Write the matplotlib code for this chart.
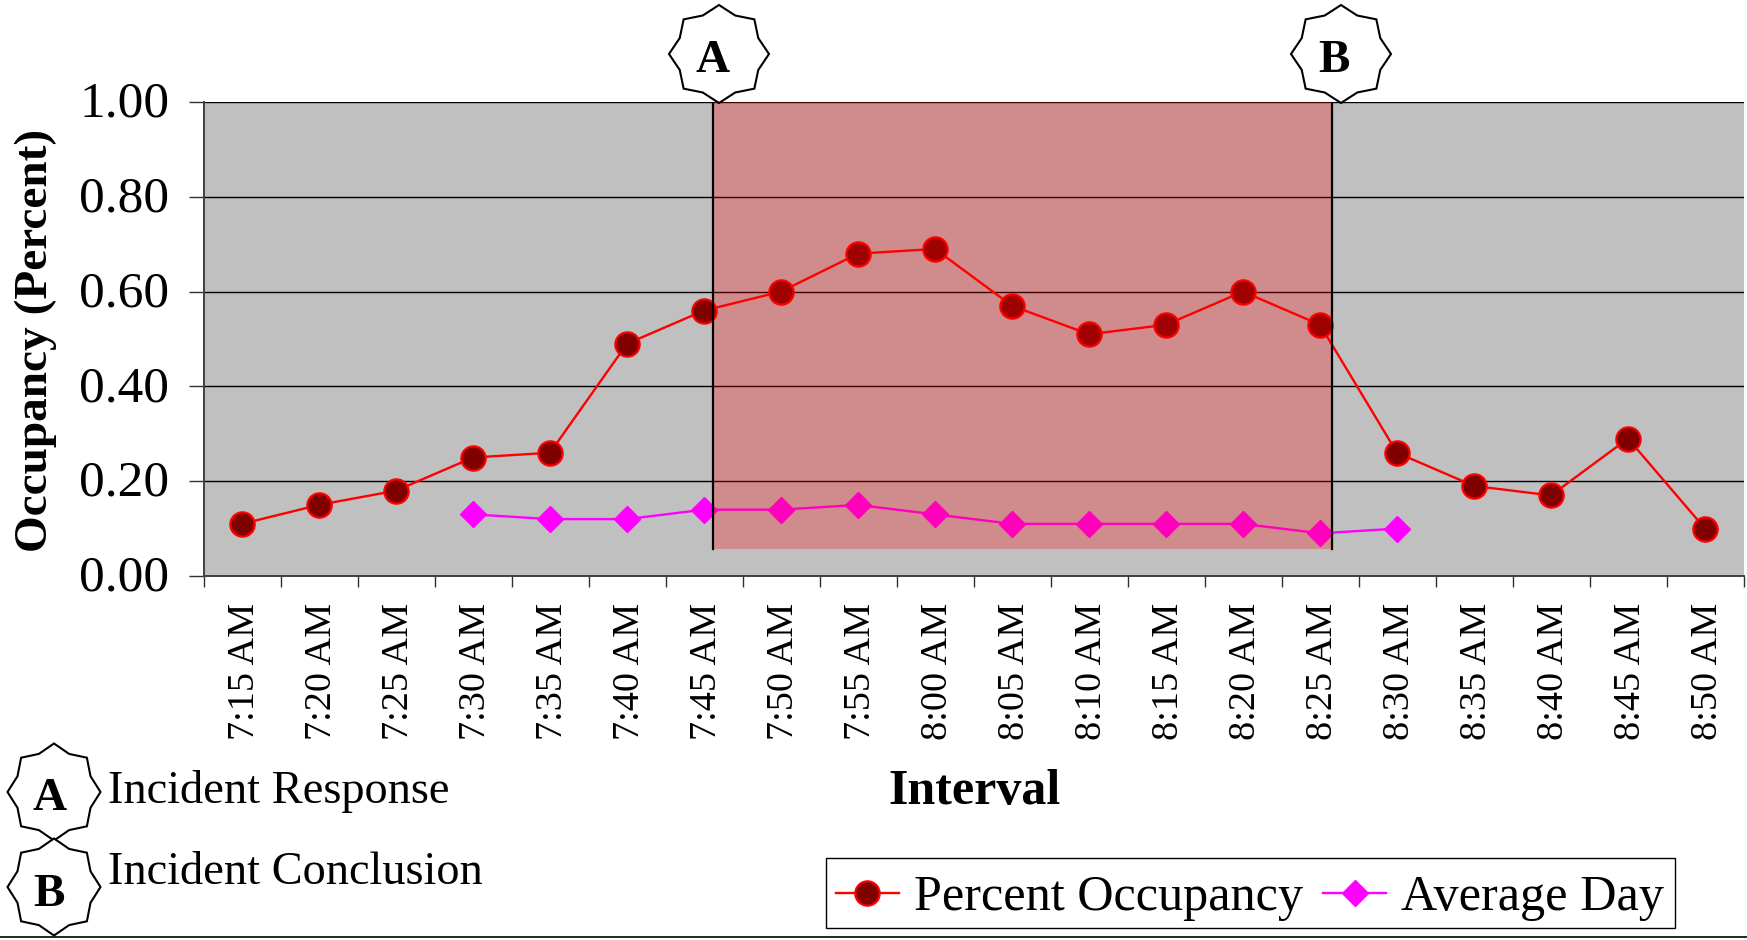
#Occupancy per 5 minute interval during an incident, compared with an average day
import numpy as np
import matplotlib
matplotlib.use('Agg')
import matplotlib.pyplot as plt
from matplotlib.patches import Polygon, Rectangle
from matplotlib.lines import Line2D
from matplotlib.transforms import ScaledTranslation

plt.rcParams['font.family'] = ['Liberation Serif', 'DejaVu Serif']

W, H = 1747, 940

#Values
intervals = ['7:15 AM', '7:20 AM', '7:25 AM', '7:30 AM', '7:35 AM', '7:40 AM', '7:45 AM',
             '7:50 AM', '7:55 AM', '8:00 AM', '8:05 AM', '8:10 AM', '8:15 AM', '8:20 AM',
             '8:25 AM', '8:30 AM', '8:35 AM', '8:40 AM', '8:45 AM', '8:50 AM']
occupancy = [0.11, 0.15, 0.18, 0.25, 0.26, 0.49, 0.56, 0.60, 0.68, 0.69,
             0.57, 0.51, 0.53, 0.60, 0.53, 0.26, 0.19, 0.17, 0.29, 0.10]
average_day = [np.nan, np.nan, np.nan, 0.13, 0.12, 0.12, 0.14, 0.14, 0.15, 0.13,
               0.11, 0.11, 0.11, 0.11, 0.09, 0.10, np.nan, np.nan, np.nan, np.nan]
y_ticks = [0.00, 0.20, 0.40, 0.60, 0.80, 1.00]

#Incident start and end, in category units (they sit between the points)
incident_start = 6.12
incident_end = 14.15
shade_bottom = 0.056

x = np.arange(len(intervals))

fig = plt.figure(figsize=(W/100, H/100), dpi=100)
ax = fig.add_axes([203.5/W, 1 - 576/H, (1743.5 - 203.5)/W, (576 - 102)/H])
ax.set_facecolor('#c0c0c0')
ax.set_xlim(-0.5, len(intervals) - 0.5)
ax.set_ylim(0, 1)

ax.yaxis.grid(True, color='black', linewidth=1.0, zorder=1)
ax.set_axisbelow(True)

ax.plot(x, occupancy, color='#ff0000', linewidth=1.7, marker='o', markersize=17.5,
        markerfacecolor='#800000', markeredgecolor='#ff0000', markeredgewidth=1.6,
        zorder=3, clip_on=False)
ax.plot(x, average_day, color='#ff00ff', linewidth=1.7, marker='D', markersize=13,
        markerfacecolor='#ff00ff', markeredgecolor='#ff00ff', zorder=3)

#Translucent red band over the lines, so they change colour inside it
ax.add_patch(Rectangle((incident_start, shade_bottom), incident_end - incident_start,
                       1 - shade_bottom, facecolor='#ff0000', alpha=0.265,
                       edgecolor='none', zorder=4))
ax.plot([incident_start, incident_start], [shade_bottom, 1], color='black', linewidth=1.6, zorder=5)
ax.plot([incident_end, incident_end], [shade_bottom, 1], color='black', linewidth=1.6, zorder=5)

#Ticks sit between the categories, labels under the points
ax.set_xticks(np.arange(len(intervals) + 1) - 0.5)
ax.set_xticklabels([])
ax.set_xticks(x, minor=True)
ax.set_xticklabels(intervals, minor=True, rotation=90, fontsize=27.5)
ax.tick_params(axis='x', which='major', length=8, width=1, color='#303030')
ax.tick_params(axis='x', which='minor', length=0, pad=19)
ax.set_yticks(y_ticks)
ax.set_yticklabels(['%.2f' % v for v in y_ticks], fontsize=37)
ax.tick_params(axis='y', length=10.5, width=1, pad=14, color='#303030')

#Nudge the tick labels a little, the defaults sit slightly off the reference
for label in ax.get_xticklabels(minor=True):
    label.set_transform(label.get_transform() + ScaledTranslation(2.5/100, 0, fig.dpi_scale_trans))
for label in ax.get_yticklabels():
    label.set_transform(label.get_transform() + ScaledTranslation(0, 3/100, fig.dpi_scale_trans))

for side in ['top', 'right']:
    ax.spines[side].set_visible(False)
ax.spines['left'].set_linewidth(1.4)
ax.spines['left'].set_color('#404040')
ax.spines['bottom'].set_linewidth(1.4)
ax.spines['bottom'].set_color('#404040')


#Helpers working in pixels of the full picture
def put_text(px, py, s, **kw):
    fig.text(px/W, 1 - py/H, s, color='black', **kw)


def star(px, py, rx, ry, letter, letter_x, letter_y):
    angles = np.arange(16)*np.pi/8
    r = np.where(np.arange(16) % 2 == 0, 1.0, 0.85)
    pts = np.column_stack(((px + rx*r*np.cos(angles))/W, 1 - (py + ry*r*np.sin(angles))/H))
    fig.add_artist(Polygon(pts, closed=True, facecolor='white', edgecolor='black',
                           linewidth=1.5, transform=fig.transFigure, zorder=6))
    fig.text(letter_x/W, 1 - letter_y/H, letter, fontsize=34, fontweight='bold',
             ha='center', va='baseline', zorder=7)


star(719, 54, 50, 49, 'A', 713, 72)
star(1341, 54, 50, 49, 'B', 1334, 72)
star(54, 792, 46.5, 48.5, 'A', 50, 810)
star(54, 887, 46.5, 48.5, 'B', 49, 906)

put_text(108, 803, 'Incident Response', fontsize=33.4, ha='left', va='baseline')
put_text(108, 884, 'Incident Conclusion', fontsize=33.4, ha='left', va='baseline')
put_text(974, 792, 'Interval', fontsize=36, fontweight='bold', ha='center', va='center')
put_text(36, 340, 'Occupancy (Percent)', fontsize=34, fontweight='bold', rotation=90,
         ha='center', va='center')

#Rule along the bottom of the picture
fig.add_artist(Line2D([0, 1], [1 - 937/H, 1 - 937/H], color='black', linewidth=1.2,
                      transform=fig.transFigure))

#Legend box is drawn apart, the entries sit low inside it
fig.add_artist(Rectangle((826/W, 1 - 928/H), (1675 - 826)/W, (928 - 858)/H, facecolor='white',
                         edgecolor='black', linewidth=1, transform=fig.transFigure))
handles = [Line2D([], [], color='#ff0000', linewidth=1.7, marker='o', markersize=17.5,
                  markerfacecolor='#800000', markeredgecolor='#ff0000', markeredgewidth=1.6),
           Line2D([], [], color='#ff00ff', linewidth=1.7, marker='D', markersize=13,
                  markerfacecolor='#ff00ff', markeredgecolor='#ff00ff')]
leg = fig.legend(handles, ['Percent Occupancy', 'Average Day'], ncol=2, fontsize=36.2,
                 loc='center', bbox_to_anchor=(1250/W, 1 - 898/H), frameon=False,
                 handlelength=1.25, handletextpad=0.3,
                 columnspacing=0.4, borderpad=0, borderaxespad=0)

fig.savefig('out.png', dpi=100)
